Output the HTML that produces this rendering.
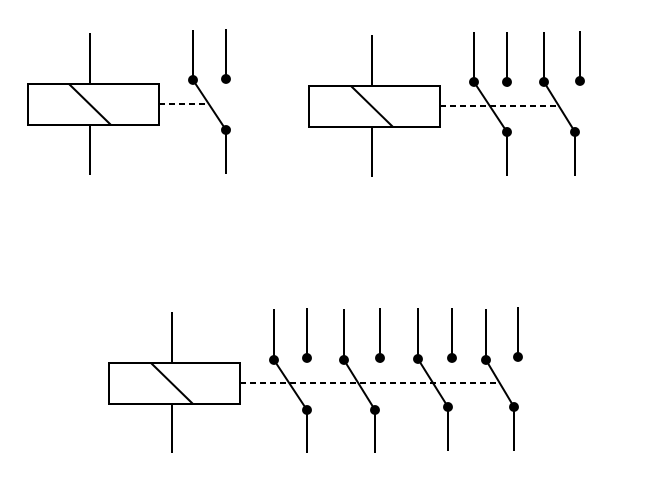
<!DOCTYPE html>
<html><head><style>html,body{margin:0;padding:0;background:#fff;}</style></head><body>
<svg width="651" height="490" xmlns="http://www.w3.org/2000/svg" stroke="#000" stroke-width="2" fill="none">
<rect x="28" y="84" width="131" height="41"/>
<line x1="90" y1="33" x2="90" y2="84"/><line x1="90" y1="125" x2="90" y2="175"/>
<line x1="69" y1="84" x2="111" y2="125"/>
<line x1="159" y1="104" x2="205" y2="104" stroke-dasharray="6,4"/>
<line x1="193" y1="30" x2="193" y2="80"/><line x1="226" y1="29" x2="226" y2="79"/>
<line x1="193" y1="80" x2="226" y2="130"/><line x1="226" y1="130" x2="226" y2="174"/>
<g fill="#000" stroke="none"><circle cx="193" cy="80" r="5"/><circle cx="226" cy="79" r="5"/><circle cx="226" cy="130" r="5"/></g>
<rect x="309" y="86" width="131" height="41"/>
<line x1="372" y1="35" x2="372" y2="86"/><line x1="372" y1="127" x2="372" y2="177"/>
<line x1="351" y1="86" x2="393" y2="127"/>
<line x1="440" y1="106" x2="557" y2="106" stroke-dasharray="6,4"/>
<line x1="474" y1="32" x2="474" y2="82"/><line x1="507" y1="32" x2="507" y2="82"/>
<line x1="474" y1="82" x2="507" y2="132"/><line x1="507" y1="132" x2="507" y2="176"/>
<line x1="544" y1="32" x2="544" y2="82"/><line x1="580" y1="31" x2="580" y2="81"/>
<line x1="544" y1="82" x2="575" y2="132"/><line x1="575" y1="132" x2="575" y2="176"/>
<g fill="#000" stroke="none"><circle cx="474" cy="82" r="5"/><circle cx="507" cy="82" r="5"/><circle cx="507" cy="132" r="5"/><circle cx="544" cy="82" r="5"/><circle cx="580" cy="81" r="5"/><circle cx="575" cy="132" r="5"/></g>
<rect x="109" y="363" width="131" height="41"/>
<line x1="172" y1="312" x2="172" y2="363"/><line x1="172" y1="404" x2="172" y2="453"/>
<line x1="151" y1="363" x2="193" y2="404"/>
<line x1="240" y1="383" x2="500" y2="383" stroke-dasharray="6,4"/>
<line x1="274" y1="309" x2="274" y2="360"/><line x1="307" y1="308" x2="307" y2="358"/>
<line x1="274" y1="360" x2="307" y2="410"/><line x1="307" y1="410" x2="307" y2="453"/>
<line x1="344" y1="309" x2="344" y2="360"/><line x1="380" y1="308" x2="380" y2="358"/>
<line x1="344" y1="360" x2="375" y2="410"/><line x1="375" y1="410" x2="375" y2="453"/>
<line x1="418" y1="308" x2="418" y2="359"/><line x1="452" y1="308" x2="452" y2="358"/>
<line x1="418" y1="359" x2="448" y2="407"/><line x1="448" y1="407" x2="448" y2="451"/>
<line x1="486" y1="309" x2="486" y2="360"/><line x1="518" y1="307" x2="518" y2="357"/>
<line x1="486" y1="360" x2="514" y2="407"/><line x1="514" y1="407" x2="514" y2="451"/>
<g fill="#000" stroke="none"><circle cx="274" cy="360" r="5"/><circle cx="307" cy="358" r="5"/><circle cx="307" cy="410" r="5"/><circle cx="344" cy="360" r="5"/><circle cx="380" cy="358" r="5"/><circle cx="375" cy="410" r="5"/><circle cx="418" cy="359" r="5"/><circle cx="452" cy="358" r="5"/><circle cx="448" cy="407" r="5"/><circle cx="486" cy="360" r="5"/><circle cx="518" cy="357" r="5"/><circle cx="514" cy="407" r="5"/></g>
</svg>
</body></html>
